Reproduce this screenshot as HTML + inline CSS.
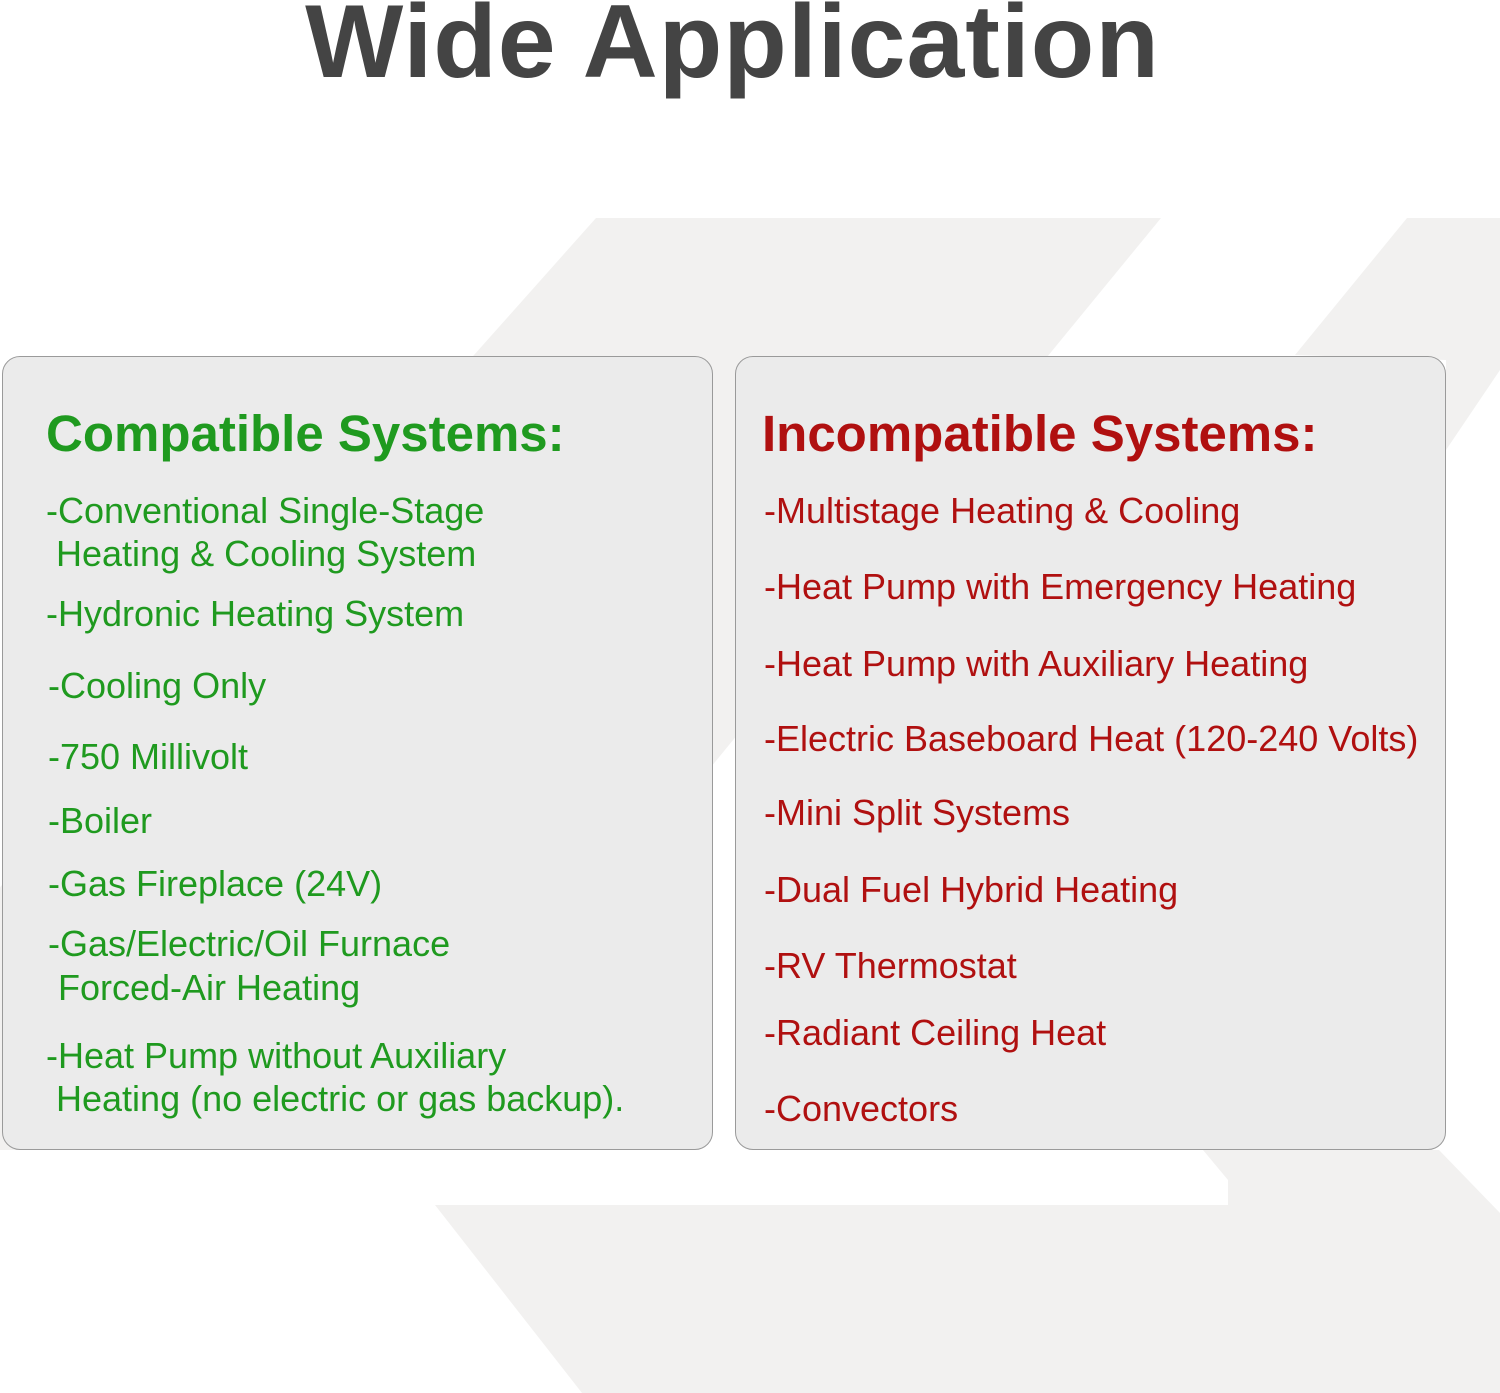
<!DOCTYPE html>
<html><head><meta charset="utf-8"><style>
html,body{margin:0;padding:0;width:1500px;height:1393px;background:#fff;overflow:hidden;font-family:"Liberation Sans",Arial,sans-serif;}
svg.bg{position:absolute;left:0;top:0}
.title{position:absolute;top:-18px;left:0;width:1465px;text-align:center;font-weight:bold;font-size:104px;letter-spacing:1px;color:#444;line-height:120px;}
.box{position:absolute;top:356px;height:794px;background:#ebebeb;border:1.5px solid #9a9a9a;border-radius:18px;box-sizing:border-box;}
.t{position:absolute;white-space:pre;font-size:36px;line-height:40px;}
.g{color:#1f9a1f}.r{color:#b01010}
.h{font-weight:bold;font-size:51px;line-height:56px;}
</style></head><body>
<svg class="bg" width="1500" height="1393">
<g fill="#f2f1f0">
<polygon points="596,218 1161,218 397,1150 -234,1150"/>
<polygon points="1407,218 1560,218 1500,370 1446,450 1446,360 1295,355"/>
<polygon points="435,1205 1228,1205 1228,1180 1203,1150 1439,1150 1500,1213 1500,1393 582,1393"/>
</g>
</svg>
<div class="title">Wide Application</div>
<div class="box" style="left:2px;width:711px"></div>
<div class="box" style="left:735px;width:711px"></div>

<div class="t g h" style="left:46px;top:406px">Compatible Systems:</div>
<div class="t g" style="left:46px;top:491px">-Conventional Single-Stage</div>
<div class="t g" style="left:46px;top:534px"> Heating &amp; Cooling System</div>
<div class="t g" style="left:46px;top:594px">-Hydronic Heating System</div>
<div class="t g" style="left:48px;top:666px">-Cooling Only</div>
<div class="t g" style="left:48px;top:737px">-750 Millivolt</div>
<div class="t g" style="left:48px;top:801px">-Boiler</div>
<div class="t g" style="left:48px;top:864px">-Gas Fireplace (24V)</div>
<div class="t g" style="left:48px;top:924px">-Gas/Electric/Oil Furnace</div>
<div class="t g" style="left:48px;top:968px"> Forced-Air Heating</div>
<div class="t g" style="left:46px;top:1036px">-Heat Pump without Auxiliary</div>
<div class="t g" style="left:46px;top:1079px"> Heating (no electric or gas backup).</div>

<div class="t r h" style="left:762px;top:406px">Incompatible Systems:</div>
<div class="t r" style="left:764px;top:491px">-Multistage Heating &amp; Cooling</div>
<div class="t r" style="left:764px;top:567px">-Heat Pump with Emergency Heating</div>
<div class="t r" style="left:764px;top:644px">-Heat Pump with Auxiliary Heating</div>
<div class="t r" style="left:764px;top:719px">-Electric Baseboard Heat (120-240 Volts)</div>
<div class="t r" style="left:764px;top:793px">-Mini Split Systems</div>
<div class="t r" style="left:764px;top:870px">-Dual Fuel Hybrid Heating</div>
<div class="t r" style="left:764px;top:946px">-RV Thermostat</div>
<div class="t r" style="left:764px;top:1013px">-Radiant Ceiling Heat</div>
<div class="t r" style="left:764px;top:1089px">-Convectors</div>
</body></html>
